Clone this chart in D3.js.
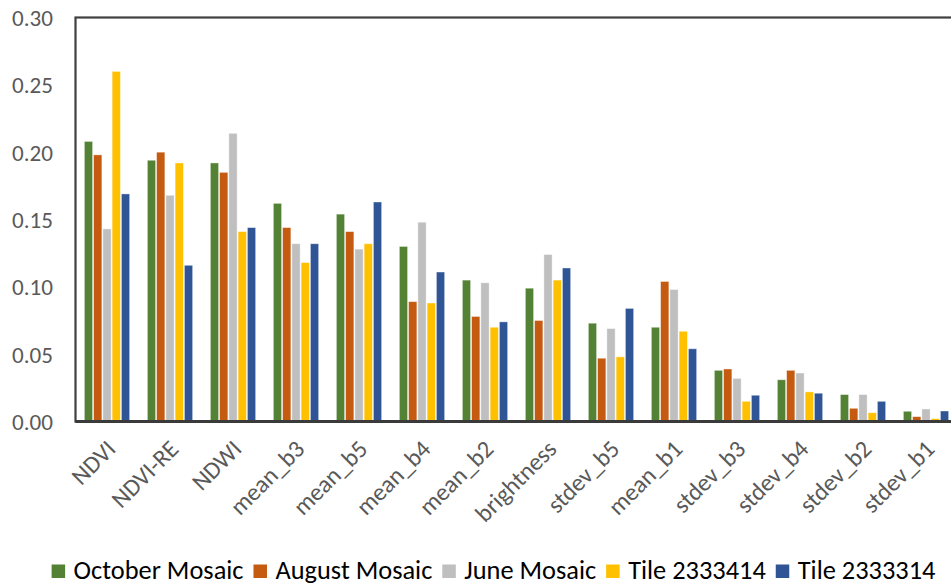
<!DOCTYPE html>
<html>
<head>
<meta charset="utf-8">
<script src="https://cdn.jsdelivr.net/npm/d3@7"></script>
<style>
html,body{margin:0;padding:0;background:#fff;}
svg{display:block;}
</style>
</head>
<body>
<svg id="chart" width="951" height="586"></svg>
<script>
const categories = ["NDVI","NDVI-RE","NDWI","mean_b3","mean_b5","mean_b4","mean_b2","brightness","stdev_b5","mean_b1","stdev_b3","stdev_b4","stdev_b2","stdev_b1"];
const seriesNames = ["October Mosaic","August Mosaic","June Mosaic","Tile 2333414","Tile 2333314"];
const octoberMosaic = [0.208,0.194,0.192,0.162,0.154,0.130,0.105,0.099,0.073,0.070,0.038,0.031,0.020,0.0076];
const augustMosaic  = [0.198,0.200,0.185,0.144,0.141,0.089,0.078,0.075,0.047,0.104,0.039,0.038,0.0098,0.0036];
const juneMosaic    = [0.143,0.168,0.214,0.132,0.128,0.148,0.103,0.124,0.069,0.098,0.032,0.036,0.020,0.0093];
const tile2333414   = [0.260,0.192,0.141,0.118,0.132,0.088,0.070,0.105,0.048,0.067,0.015,0.022,0.0065,0.0021];
const tile2333314   = [0.169,0.116,0.144,0.132,0.163,0.111,0.074,0.114,0.084,0.054,0.0195,0.021,0.015,0.0078];
const yTicks = [0,0.05,0.10,0.15,0.20,0.25,0.30];
const colors = ["#548235","#C55A11","#BFBFBF","#FFC000","#2F5597"];

const seriesValues = [octoberMosaic, augustMosaic, juneMosaic, tile2333414, tile2333314];
const FONT = "Carlito, 'Liberation Sans Narrow', 'Open Sans', sans-serif";

const svg = d3.select("#chart");
const mLeft = 75.5, mRight = 957.5, mTop = 17.5, mBottom = 421.5;

const x0 = d3.scaleBand().domain(categories).range([mLeft, mRight]).paddingInner(0.265).paddingOuter(0.1325);
const x1 = d3.scaleBand().domain(d3.range(seriesNames.length)).range([0, x0.bandwidth()]).padding(0);
const y = d3.scaleLinear().domain([0, 0.30]).range([mBottom, mTop]);

function fitSize(text, targetWidth) {
  const t = svg.append("text").attr("font-family", FONT).attr("font-size", 100).text(text);
  const w = t.node().getComputedTextLength();
  t.remove();
  return 100 * targetWidth / w;
}
const tickSize = fitSize("0.30", 41);
const xLabSize = fitSize("NDVI-RE", 83);
const legSize = fitSize("October Mosaic", 170);

svg.append("rect").attr("x", mLeft).attr("y", mTop).attr("width", mRight - mLeft).attr("height", mBottom - mTop)
  .attr("fill", "none").attr("stroke", "#404040").attr("stroke-width", 2.2);

const groups = svg.append("g").selectAll("g").data(categories).join("g")
  .attr("transform", d => `translate(${x0(d)},0)`);
groups.selectAll("rect").data((d, i) => seriesValues.map((s, k) => ({k, v: s[i]}))).join("rect")
  .attr("x", d => x1(d.k) + 0.5)
  .attr("width", x1.bandwidth() - 1)
  .attr("y", d => y(d.v))
  .attr("height", d => mBottom - y(d.v))
  .attr("fill", d => colors[d.k])
  .attr("stroke", "#ffffff").attr("stroke-opacity", 0.5).attr("stroke-width", 0.8);

svg.append("line").attr("x1", mLeft).attr("x2", mRight).attr("y1", mBottom).attr("y2", mBottom)
  .attr("stroke", "#3a3a3a").attr("stroke-width", 3);

const yAxis = d3.axisLeft(y).tickValues(yTicks).tickFormat(d3.format(".2f")).tickSize(0).tickPadding(0);
const gy = svg.append("g").attr("transform", `translate(53,0)`).call(yAxis);
gy.select(".domain").remove();
gy.selectAll("text").attr("font-family", FONT).attr("font-size", tickSize).attr("fill", "#595959").attr("dy", "0.34em");

const xAxis = d3.axisBottom(x0).tickSize(0).tickPadding(0);
const gx = svg.append("g").attr("transform", `translate(0,${mBottom})`).call(xAxis);
gx.select(".domain").remove();
gx.selectAll("text")
  .attr("font-family", FONT).attr("font-size", xLabSize).attr("fill", "#595959")
  .attr("text-anchor", "end").attr("dy", null).attr("y", 0)
  .attr("transform", "translate(10,29) rotate(-45)");

const leg = svg.append("g");
let cx = 0;
seriesNames.forEach((name, k) => {
  const g = leg.append("g");
  g.append("rect").attr("x", cx).attr("y", -14).attr("width", 13.5).attr("height", 13.5).attr("fill", colors[k]);
  const t = g.append("text").attr("x", cx + 22).attr("y", 0).attr("font-family", FONT).attr("font-size", legSize)
    .attr("fill", "#000").text(name);
  cx += 22 + t.node().getComputedTextLength() + 10;
});
const totalW = cx - 10;
leg.attr("transform", `translate(${493.5 - totalW / 2},578.5)`);
</script>
</body>
</html>
